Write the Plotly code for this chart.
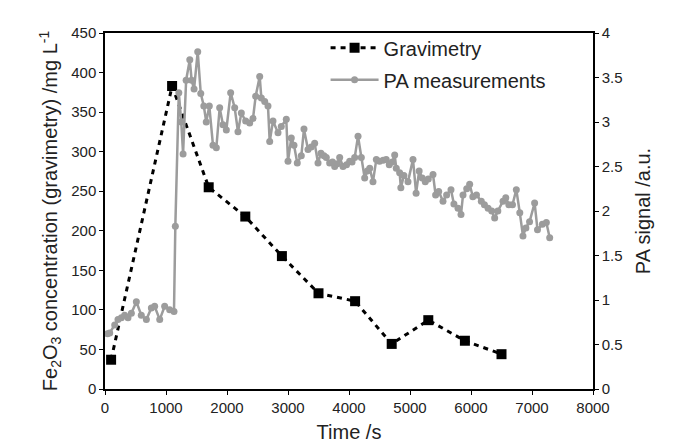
import plotly.graph_objects as go

# Gravimetry data
grav_time = [100, 1100, 1700, 2300, 2900, 3500, 4100, 4700, 5300, 5900, 6500]
grav_conc = [37, 383, 255, 218, 168, 121, 111, 57, 87, 61, 44]

# PA measurement data
pa_time = [40, 77, 159, 213, 268, 322, 377, 432, 514, 595, 678, 760, 814, 897, 978, 1060, 1131,
           1153, 1210, 1250, 1280, 1330, 1390, 1420, 1460, 1520, 1570, 1620, 1660, 1710, 1770,
           1825, 1880, 1934, 1989, 2060, 2126, 2180, 2235, 2306, 2372, 2426, 2470, 2536, 2563,
           2618, 2672, 2700, 2754, 2836, 2890, 2972, 3000, 3054, 3098, 3152, 3218, 3262, 3328,
           3380, 3437, 3492, 3540, 3590, 3628, 3683, 3730, 3765, 3810, 3847, 3902, 3960, 4011,
           4050, 4093, 4148, 4202, 4257, 4300, 4340, 4393, 4448, 4500, 4560, 4610, 4660, 4710,
           4749, 4775, 4830, 4850, 4900, 4967, 5049, 5100, 5150, 5200, 5250, 5300, 5377, 5420,
           5470, 5541, 5600, 5672, 5720, 5787, 5836, 5869, 5930, 5978, 6030, 6090, 6169, 6220,
           6280, 6340, 6388, 6440, 6525, 6570, 6620, 6680, 6743, 6800, 6852, 6900, 6960, 7043,
           7090, 7170, 7235, 7290]
pa_signal = [0.62, 0.63, 0.72, 0.78, 0.80, 0.83, 0.80, 0.85, 0.98, 0.83, 0.78, 0.91, 0.93, 0.78, 0.93, 0.89, 0.87,
             1.83, 3.33, 3.00, 2.64, 3.47, 3.70, 3.47, 3.37, 3.79, 3.32, 3.18, 3.00, 3.18, 2.74,
             2.71, 3.16, 2.97, 2.91, 3.33, 3.16, 2.89, 3.10, 3.01, 2.99, 3.04, 3.29, 3.51, 3.27,
             3.23, 3.18, 2.78, 3.01, 2.88, 2.95, 3.03, 2.56, 2.82, 2.74, 2.54, 2.62, 2.92, 2.69,
             2.72, 2.76, 2.54, 2.65, 2.62, 2.60, 2.54, 2.55, 2.50, 2.53, 2.60, 2.50, 2.52, 2.56,
             2.55, 2.60, 2.84, 2.60, 2.37, 2.45, 2.48, 2.33, 2.58, 2.56, 2.57, 2.58, 2.52, 2.55,
             2.63, 2.48, 2.43, 2.26, 2.40, 2.33, 2.58, 2.20, 2.45, 2.37, 2.33, 2.36, 2.41, 2.18,
             2.22, 2.11, 2.18, 2.24, 2.08, 2.03, 1.96, 2.18, 2.25, 2.30, 2.16, 2.18, 2.11, 2.07,
             2.03, 2.00, 1.92, 2.00, 2.11, 2.15, 2.07, 2.07, 2.24, 1.98, 1.72, 1.81, 1.88, 2.09,
             1.79, 1.85, 1.87, 1.70]

x_ticks = [0, 1000, 2000, 3000, 4000, 5000, 6000, 7000, 8000]
left_ticks = [0, 50, 100, 150, 200, 250, 300, 350, 400, 450]
right_ticks = [0, 0.5, 1, 1.5, 2, 2.5, 3, 3.5, 4]

FONT = "Liberation Sans, Arial, sans-serif"
GRAY = "#9c9c9c"
TXT = "#222222"

fig = go.Figure()
fig.add_trace(go.Scatter(
    x=grav_time, y=grav_conc, name="Gravimetry", mode="lines+markers",
    line=dict(color="black", width=3, dash="5px,5px"),
    marker=dict(symbol="square", size=10, color="black"),
    yaxis="y", legendgroup="g1",
))
fig.add_trace(go.Scatter(
    x=pa_time, y=pa_signal, name="PA measurements", mode="lines+markers",
    line=dict(color=GRAY, width=2.5),
    marker=dict(symbol="circle", size=7, color=GRAY),
    yaxis="y2", legendgroup="g2",
))

axis_common = dict(
    showgrid=False, zeroline=False, showline=True, linecolor="black", linewidth=1.5,
    ticks="outside", ticklen=4, tickcolor="black",
    tickfont=dict(family=FONT, size=15, color=TXT),
)

fig.update_layout(
    width=675, height=447,
    margin=dict(l=97, r=90, t=25, b=66),
    paper_bgcolor="white", plot_bgcolor="white",
    font=dict(family=FONT, color=TXT),
    showlegend=True,
    legend=dict(x=0.452, y=1.013, xanchor="left", yanchor="top",
                bgcolor="rgba(0,0,0,0)", font=dict(family=FONT, size=20, color=TXT),
                itemwidth=48, traceorder="grouped", tracegroupgap=3),
    xaxis=dict(range=[0, 8000], tickvals=x_ticks, mirror=True,
               title=dict(text="Time /s", font=dict(family=FONT, size=20, color=TXT), standoff=10),
               **axis_common),
    yaxis=dict(range=[0, 450], tickvals=left_ticks,
               title=dict(text="Fe<sub>2</sub>O<sub>3</sub> concentration (gravimetry) /mg L<sup>-1</sup>",
                          font=dict(family=FONT, size=20, color=TXT), standoff=8),
               **axis_common),
    yaxis2=dict(range=[0, 4], tickvals=right_ticks, overlaying="y", side="right",
                title=dict(text="PA signal /a.u.", font=dict(family=FONT, size=20, color=TXT), standoff=14),
                **axis_common),
)

fig.write_html("out.html")
